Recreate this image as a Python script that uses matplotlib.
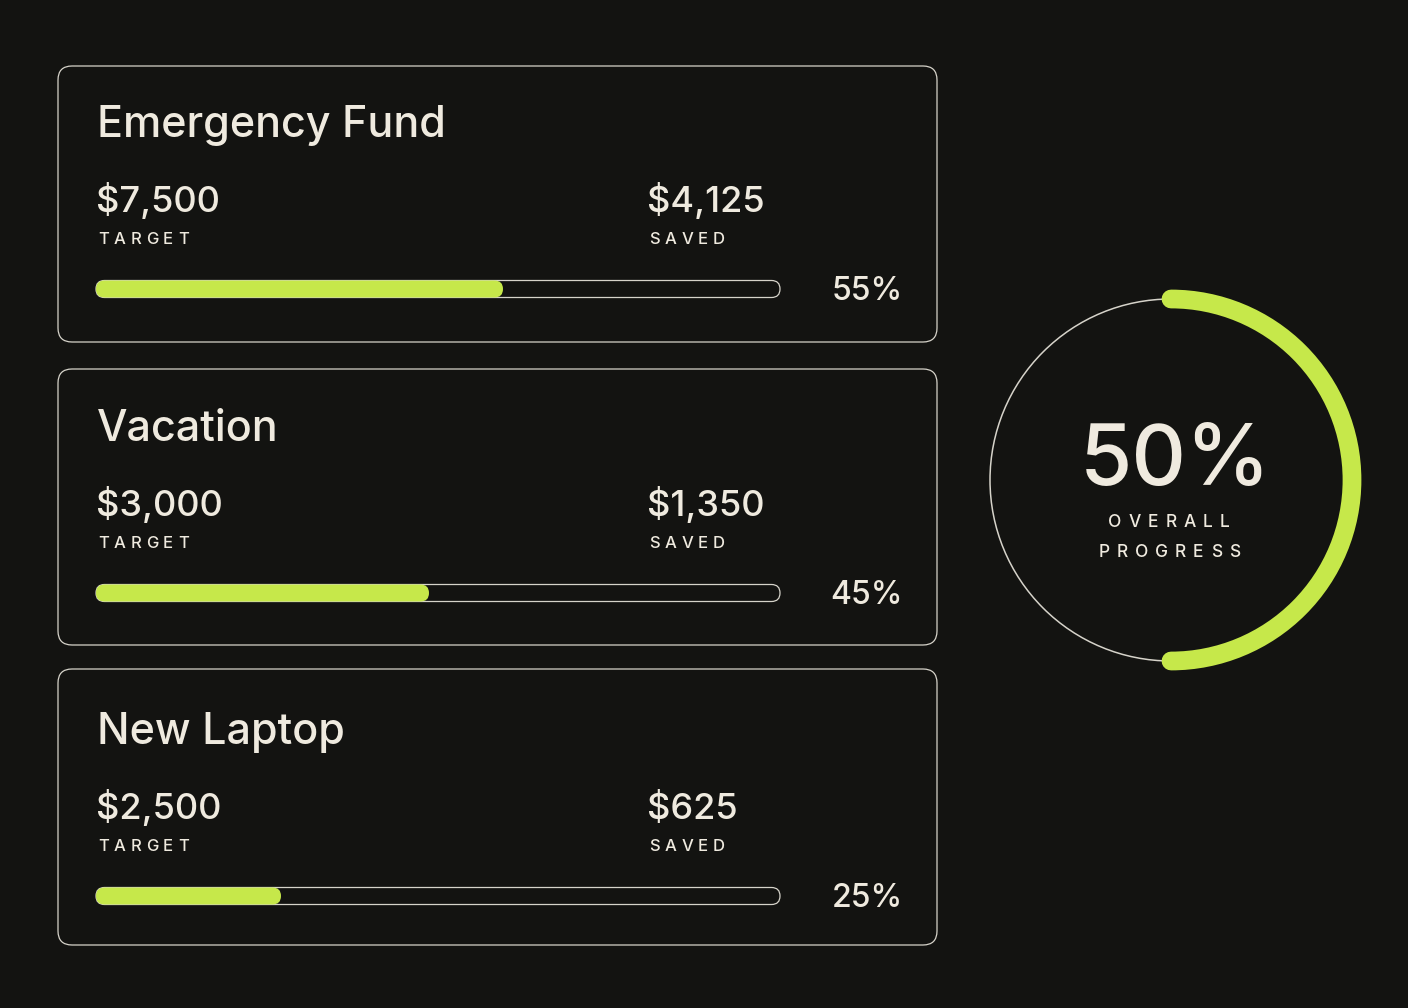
import matplotlib.pyplot as plt
from matplotlib.patches import FancyBboxPatch, Circle, Arc

goals = ['Emergency Fund', 'Vacation', 'New Laptop']
targets = [7500, 3000, 2500]
saved = [4125, 1350, 625]
percents = [55, 45, 25]
overall = 50

BG = '#131311'
FG = '#efeadf'
GREEN = '#c6e84a'
EDGE = '#d6d3ca'

plt.rcParams['font.family'] = ['Inter', 'DejaVu Sans']
plt.rcParams['font.weight'] = 'medium'

fig = plt.figure(figsize=(14.08, 10.08), dpi=100, facecolor=BG)
ax = fig.add_axes([0, 0, 1, 1])
ax.set_xlim(0, 1408)
ax.set_ylim(1008, 0)
ax.axis('off')
renderer = fig.canvas.get_renderer()


def tracked(x, y, s, size, spacing, ha='left'):
    # letter-spaced text, one glyph at a time
    widths = []
    for ch in s:
        t = ax.text(0, 0, ch, fontsize=size)
        widths.append(t.get_window_extent(renderer).width)
        t.remove()
    total = sum(widths) + spacing * (len(s) - 1)
    if ha == 'center':
        x -= total / 2
    for ch, w in zip(s, widths):
        ax.text(x, y, ch, fontsize=size, color=FG, va='baseline', ha='left')
        x += w + spacing


card_tops = [66, 369, 669]
text_shift = [0, 1, 4]
card_x, card_w, card_h = 58, 879, 276
bar_x, bar_w, bar_h = 96, 684, 17
px_per_pct = 7.4

for name, tgt, sv, pct, top, dy in zip(goals, targets, saved, percents, card_tops, text_shift):
    ax.add_patch(FancyBboxPatch((card_x, top), card_w, card_h,
                                boxstyle='round,pad=0,rounding_size=14',
                                fc=BG, ec=EDGE, lw=0.9))
    t = top + dy
    ax.text(97, t + 71, name, fontsize=31, color=FG, va='baseline')
    ax.text(96, t + 146, f'${tgt:,}', fontsize=26, color=FG, va='baseline')
    ax.text(647, t + 146, f'${sv:,}', fontsize=26, color=FG, va='baseline')
    tracked(98, t + 178, 'TARGET', 12, 4.8)
    tracked(649, t + 178, 'SAVED', 12, 4.8)

    by = t + 223 - bar_h / 2
    ax.add_patch(FancyBboxPatch((bar_x, by), bar_w, bar_h,
                                boxstyle=f'round,pad=0,rounding_size={bar_h / 2}',
                                fc='none', ec=EDGE, lw=0.9))
    ax.add_patch(FancyBboxPatch((bar_x, by), pct * px_per_pct, bar_h,
                                boxstyle=f'round,pad=0,rounding_size={bar_h / 2}',
                                fc=GREEN, ec='none'))
    ax.text(903, t + 234, f'{pct}%', fontsize=23, color=FG, va='baseline', ha='right')

# overall ring
cx, cy, r = 1171, 480, 181
ax.add_patch(Circle((cx, cy), r, fill=False, ec=EDGE, lw=1.1))
ring = Arc((cx, cy), 2 * r, 2 * r, theta1=-90, theta2=-90 + 360 * overall / 100,
           ec=GREEN, lw=13.5)
ring.set_capstyle('round')
ax.add_patch(ring)

ax.text(cx + 4, cy + 5, f'{overall}%', fontsize=61, color=FG, va='baseline', ha='center')
tracked(cx - 2, cy + 47, 'OVERALL', 12.5, 7, ha='center')
tracked(cx - 2, cy + 77, 'PROGRESS', 12.5, 7, ha='center')

fig.savefig('out.png', dpi=100, facecolor=BG)
